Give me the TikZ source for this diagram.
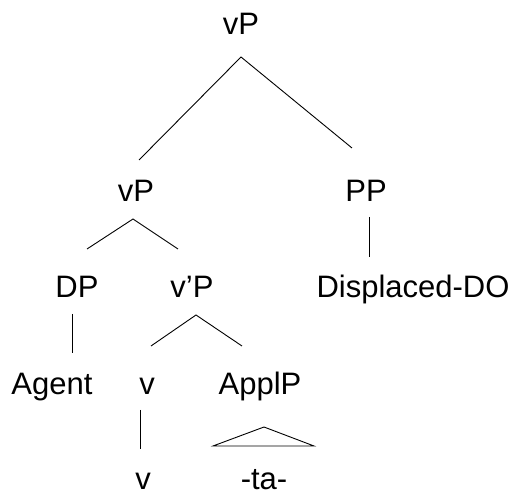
\documentclass[tikz,border=0pt]{standalone}
\usepackage{fontspec}
\setmainfont{Liberation Sans}
\usepackage{tikz}

\tikzset{
    cat/.style={anchor=base, inner sep=0pt, font=\fontsize{31}{37}\selectfont},
    branch/.style={black, line width=0.9pt},
}

\begin{document}
\begin{tikzpicture}[x=1pt, y=-1pt]
    \useasboundingbox (0,0) rectangle (515,494);
    \node[cat] (vptop) at (241, 35) {vP};
    \node[cat] (vpmid) at (136, 202) {vP};
    \node[cat] (pp) at (366, 202) {PP};
    \node[cat] (dp) at (77, 298) {DP};
    \node[cat] (vbar) at (192, 298) {v’P};
    \node[cat] (ddo) at (413, 298) {Displaced-DO};
    \node[cat] (agent) at (52, 395) {Agent};
    \node[cat] (vhead) at (147, 395) {v};
    \node[cat] (appl) at (260, 395) {ApplP};
    \node[cat] (vleaf) at (143, 490) {v};
    \node[cat] (ta) at (264, 490) {-ta-};
    \coordinate (vptop-a) at (241, 57);
    \coordinate (vpmid-u) at (139, 160);
    \coordinate (pp-u) at (352, 148);
    \coordinate (vpmid-a) at (133, 219);
    \coordinate (dp-u) at (87, 249);
    \coordinate (vbar-u) at (178, 249);
    \coordinate (pp-d) at (369, 217);
    \coordinate (ddo-u) at (369, 257);
    \coordinate (dp-d) at (72, 314);
    \coordinate (agent-u) at (72, 353);
    \coordinate (vbar-a) at (196, 315);
    \coordinate (vhead-u) at (151, 346);
    \coordinate (appl-u) at (242, 346);
    \coordinate (vhead-d) at (140, 410);
    \coordinate (vleaf-u) at (140, 449);
    \coordinate (appl-a) at (264, 427);
    \coordinate (ta-l) at (213, 446);
    \coordinate (ta-r) at (314, 446);
    \draw[branch] (vpmid-u) -- (vptop-a) -- (pp-u);
    \draw[branch] (dp-u) -- (vpmid-a) -- (vbar-u);
    \draw[branch] (pp-d) -- (ddo-u);
    \draw[branch] (dp-d) -- (agent-u);
    \draw[branch] (vhead-u) -- (vbar-a) -- (appl-u);
    \draw[branch] (vhead-d) -- (vleaf-u);
    \draw[branch] (appl-a) -- (ta-l) -- (ta-r) -- cycle;
\end{tikzpicture}
\end{document}
